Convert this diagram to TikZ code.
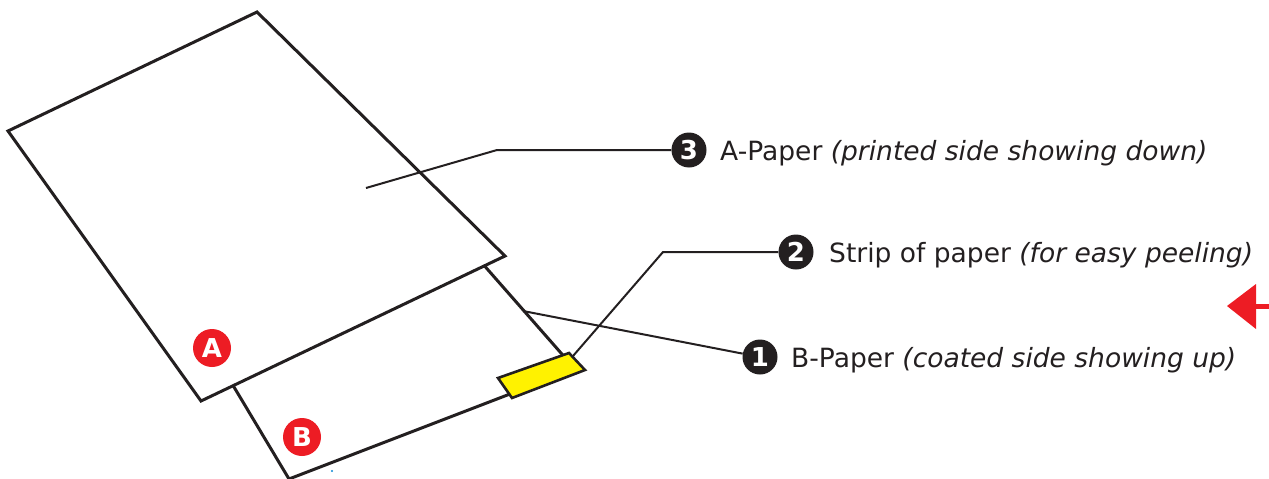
\documentclass[tikz,border=0pt]{standalone}
\usepackage{fontspec}
\setmainfont{DejaVu Sans}
\definecolor{papred}{HTML}{ED1C24}
\definecolor{ink}{HTML}{231F20}
\definecolor{stripyellow}{HTML}{FFF200}
\begin{document}
\begin{tikzpicture}[x=1pt,y=-1pt,
  paper/.style={draw=ink,line width=3pt,fill=white,line join=miter},
  leader/.style={draw=ink,line width=2pt},
  numdot/.style={circle,fill=ink,text=white,inner sep=0pt,minimum size=35pt,font=\fontsize{26}{26}\selectfont\bfseries},
  letdot/.style={circle,fill=papred,text=white,inner sep=0pt,minimum size=38pt,font=\fontsize{26}{26}\selectfont\bfseries},
  label/.style={anchor=base west,inner sep=0pt,text=ink,font=\fontsize{26.5}{27}\selectfont}]
\useasboundingbox (0,0) rectangle (1269,479);
\clip (0,0) rectangle (1269,479);
% B paper
\coordinate (b1) at (179,295);
\coordinate (b2) at (446,222);
\coordinate (b3) at (575,369);
\coordinate (b4) at (289,479);
\draw[paper] (b1) -- (b2) -- (b3) -- (b4) -- cycle;
% A paper
\coordinate (a1) at (257,12);
\coordinate (a2) at (8,131);
\coordinate (a3) at (201,401);
\coordinate (a4) at (505,256);
\draw[paper] (a1) -- (a2) -- (a3) -- (a4) -- cycle;
% strip
\draw[draw=ink,line width=2.6pt,fill=stripyellow,line join=miter] (498,378) -- (512,398) -- (585,370) -- (569,353) -- cycle;
% letter badges
\node[letdot] (la) at (212,348) {A};
\node[letdot] (lb) at (302,437) {B};
% number badges and labels
\node[numdot] (c3) at (689,150) {3};
\node[numdot] (c2) at (796,252) {2};
\node[numdot] (c1) at (760,357) {1};
\node[label] (t3) at (720,160) {A-Paper \textit{(printed side showing down)}};
\node[label] (t2) at (829,262) {Strip of paper \textit{(for easy peeling)}};
\node[label] (t1) at (791,367) {B-Paper \textit{(coated side showing up)}};
% leaders
\coordinate (s3) at (366,188);
\coordinate (k3) at (497,150);
\coordinate (s2) at (573,356);
\coordinate (k2) at (663,252);
\coordinate (s1) at (523,311);
\draw[leader] (s3) -- (k3) -- (c3);
\draw[leader] (s2) -- (k2) -- (c2);
\draw[leader] (s1) -- (c1);
% red arrow
\coordinate (tip) at (1227,306);
\fill[papred] (tip) -- (1256,284) -- (1256,329) -- cycle;
\fill[papred] (1255,303.5) rectangle (1269,308.5);
% small dot
\fill[cyan!70!blue] (332,471) circle (1.2pt);
\end{tikzpicture}
\end{document}
